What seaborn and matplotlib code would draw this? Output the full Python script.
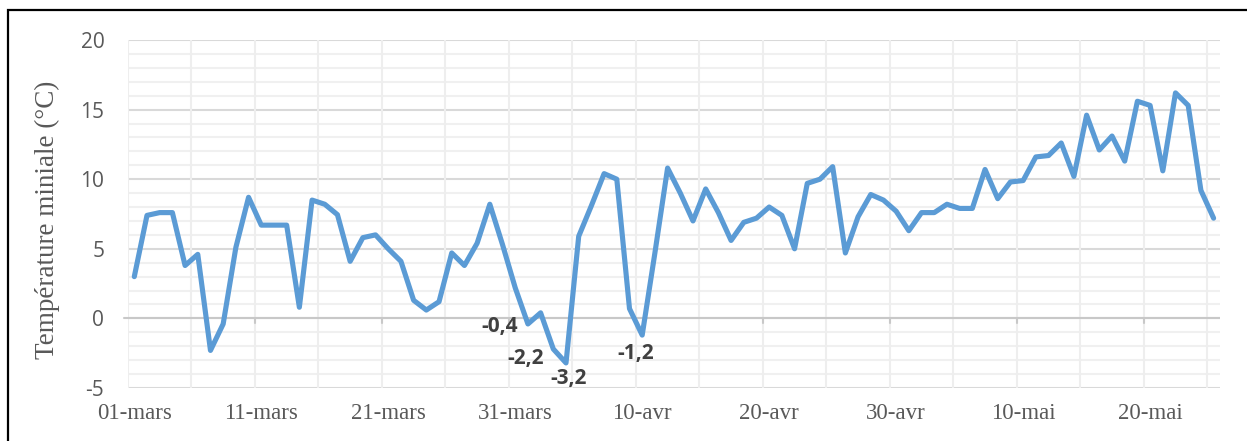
import numpy as np
import pandas as pd
import seaborn as sns
from matplotlib import pyplot as plt
from matplotlib.patches import Rectangle

# minimum daily temperature, 01-mars -> 25-mai
temp = [3.0, 7.4, 7.6, 7.6, 3.8, 4.6, -2.3, -0.4, 5.1, 8.7,
        6.7, 6.7, 6.7, 0.8, 8.5, 8.2, 7.45, 4.1, 5.8, 6.0,
        5.0, 4.1, 1.3, 0.6, 1.2, 4.7, 3.8, 5.4, 8.2, 5.3,
        2.2, -0.4, 0.4, -2.2, -3.2, 5.9, 8.1, 10.4, 10.0, 0.7,
        -1.2, 4.7, 10.8, 9.0, 7.0, 9.3, 7.6, 5.6, 6.9, 7.2,
        8.0, 7.4, 5.0, 9.7, 10.0, 10.9, 4.7, 7.3, 8.9, 8.5,
        7.7, 6.3, 7.6, 7.6, 8.2, 7.9, 7.9, 10.7, 8.6, 9.8,
        9.9, 11.6, 11.7, 12.6, 10.2, 14.6, 12.1, 13.1, 11.3, 15.6,
        15.3, 10.6, 16.2, 15.3, 9.2, 7.2]
day = list(range(len(temp)))

tick_days = [0, 10, 20, 30, 40, 50, 60, 70, 80]
tick_labels = ['01-mars', '11-mars', '21-mars', '31-mars', '10-avr',
               '20-avr', '30-avr', '10-mai', '20-mai']

# labelled cold days: (index, text)
labelled = [(31, '-0,4'), (33, '-2,2'), (34, '-3,2'), (40, '-1,2')]

df = pd.DataFrame({'day': day, 'temp': temp})

sns.set_style('white')
fig = plt.figure(figsize=(12.47, 4.41), dpi=100)
ax = fig.add_axes([0.1026, 0.1202, 0.8757, 0.7891])

# grid
for v in np.arange(-5, 21, 1):
    major = v % 5 == 0
    ax.axhline(v, color='#D9D9D9' if major else '#F0F0F0', lw=1.5, zorder=0)
for d in np.arange(-0.5, 85, 5):
    ax.axvline(d, color='#EEEEEE', lw=1.5, zorder=0)
ax.axhline(0, color='#C8C8C8', lw=1.5, zorder=1)
for d in np.arange(9.5, 85, 10):
    ax.plot([d, d], [0, -0.3], color='#C8C8C8', lw=1.5, zorder=1)
ax.plot([-0.5, -0.8], [0, 0], color='#C8C8C8', lw=1.5, zorder=1, clip_on=False)

sns.lineplot(data=df, x='day', y='temp', ax=ax, color='#5B9BD5', lw=3.7,
             solid_joinstyle='round', zorder=3)

offsets = {'-0,4': (-7, -2, 'right'), '-2,2': (-7, -6.5, 'right'),
           '-3,2': (1.5, -11, 'center'), '-1,2': (-5, -13, 'center')}
for i, txt in labelled:
    dx, dy, ha = offsets[txt]
    ax.annotate(txt, (day[i], temp[i]), xytext=(dx, dy), textcoords='offset points',
                ha=ha, va='center', fontsize=15, fontweight='bold',
                color='#404040', family='Open Sans')

ax.set_xlim(-0.5, 85.5)
ax.set_ylim(-5, 20)
ax.set_xticks(tick_days)
ax.set_xticklabels(tick_labels, family='Liberation Serif', fontsize=16.5, color='#595959')
ax.set_yticks([-5, 0, 5, 10, 15, 20])
ax.set_yticklabels(['-5', '0', '5', '10', '15', '20'], family='Open Sans',
                   fontsize=15, color='#595959')
ax.tick_params(axis='x', length=0, pad=11)
ax.tick_params(axis='y', length=0, pad=17)
ax.set_xlabel('')
ax.set_ylabel('Température miniale (°C)', family='Liberation Serif', fontsize=19.5,
              color='#595959')
ax.yaxis.set_label_coords(-0.062, 0.483)
for s in ax.spines.values():
    s.set_visible(False)

fig.patches.append(Rectangle((8 / 1247, -0.2), 1.2, 1.2 - 10 / 441,
                             transform=fig.transFigure, fill=False,
                             edgecolor='black', lw=1.6))

fig.savefig('out.png', dpi=100)
